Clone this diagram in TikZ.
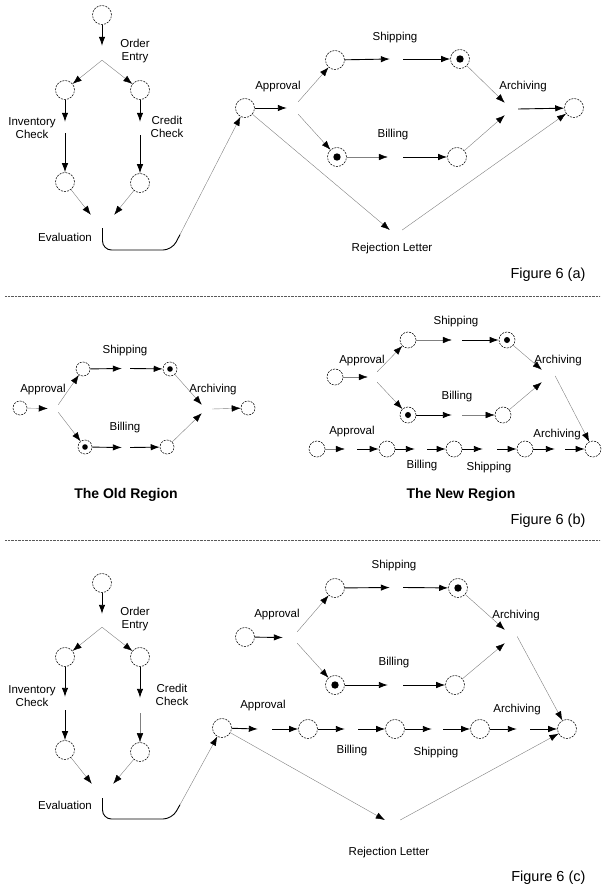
\documentclass[tikz,border=0pt]{standalone}
\usepackage{fontspec}
\setmainfont{Liberation Sans}
\usetikzlibrary{arrows.meta}

\begin{document}
\begin{tikzpicture}[x=1pt,y=-1pt,
  place/.style={circle,draw,line width=0.55pt,dash pattern=on 2pt off 1.1pt,minimum size=#1,inner sep=0pt},
  place/.default=19pt,
  token/.style={path picture={\fill (path picture bounding box.center) circle (#1);}},
  token/.default=3.7pt,
  tr/.style 2 args={inner sep=0pt,minimum width=#1,minimum height=#2},
  heavy/.style={line width=0.9pt,-{Latex[length=9pt,width=6.5pt]}},
  light/.style={line width=0.4pt,black!50,-{Latex[length=9pt,width=6.5pt,color=black]}},
  lbl/.style={font=\fontsize{11.5}{13.5}\selectfont,align=center},
  figcap/.style={font=\fontsize{14.5}{17}\selectfont,anchor=east},
  ttl/.style={font=\fontsize{14}{17}\selectfont\bfseries},
  divider/.style={black!65,line width=0.6pt,dash pattern=on 0.8pt off 0.6pt}]
\useasboundingbox (0,0) rectangle (603,888);

\node[place] (aStart) at (102,15) {};
\node[tr={0pt}{14pt}] (aOrd) at (102,53) {};
\node[lbl] (aOrdL) at (135,51) {Order\\Entry};
\node[place] (aInv1) at (65,90) {};
\node[place] (aCr1) at (140,90) {};
\node[tr={0pt}{11pt}] (aInv) at (65,127.5) {};
\node[tr={0pt}{13pt}] (aCr) at (140,128.5) {};
\node[lbl] (aInvL) at (32,128) {Inventory\\Check};
\node[lbl] (aCrL) at (167,127) {Credit\\Check};
\node[place] (aInv2) at (65,182) {};
\node[place] (aCr2) at (140,183) {};
\node[tr={23pt}{13pt}] (aEval) at (102.5,221.5) {};
\node[lbl] (aEvalL) at (65,237) {Evaluation};
\coordinate (aBendA) at (102.5,250);
\coordinate (aBendB) at (172,250);
\coordinate (aBendC) at (180,234.6);
\draw[heavy] (aStart) -- (aOrd.north);
\draw[light] (aOrd.south) -- (aInv1);
\draw[light] (aOrd.south) -- (aCr1);
\draw[heavy] (aInv1) -- (aInv.north);
\draw[heavy] (aInv.south) -- (aInv2);
\draw[heavy] (aCr1) -- (aCr.north);
\draw[heavy] (aCr.south) -- (aCr2);
\draw[light] (aInv2) -- (aEval.north west);
\draw[light] (aCr2) -- (aEval.north east);
\draw[line width=0.9pt,rounded corners=9pt] (aEval.south) -- (aBendA) -- (aBendB) -- (aBendC);

\node[place] (aAp) at (245,108) {};
\node[tr={11pt}{12pt}] (aAppr) at (292.5,108) {};
\node[lbl] (aApprL) at (278,87) {Approval};
\node[place] (aShip1) at (335,60) {};
\node[tr={13pt}{0pt}] (aShip) at (396.5,59) {};
\node[place,token] (aShip2) at (460,59) {};
\node[lbl] (aShipL) at (395,38) {Shipping};
\node[place,token] (aBill1) at (337,157) {};
\node[tr={15pt}{0pt}] (aBill) at (395.5,157) {};
\node[place] (aBill2) at (457,157) {};
\node[lbl] (aBillL) at (393,135) {Billing};
\node[tr={13pt}{12pt}] (aArch) at (511.5,109) {};
\node[lbl] (aArchL) at (523,87) {Archiving};
\node[place] (aEnd) at (574,108) {};
\node[tr={12pt}{0pt}] (aRej) at (396,230) {};
\node[lbl] (aRejL) at (392,249) {Rejection Letter};
\node[figcap] (aCap) at (589,275) {Figure 6 (a)};
\draw[light] (aBendC) -- (aAp);
\draw[heavy] (aAp) -- (aAppr.west);
\draw[light] (aAppr.north east) -- (aShip1);
\draw[light] (aAppr.south east) -- (aBill1);
\draw[heavy] (aShip1) -- (aShip.west);
\draw[heavy] (aShip.east) -- (aShip2);
\draw[light] (aBill1) -- (aBill.west);
\draw[heavy] (aBill.east) -- (aBill2);
\draw[light] (aShip2) -- (aArch.north west);
\draw[light] (aBill2) -- (aArch.south west);
\draw[heavy] (aArch.east) -- (aEnd);
\draw[light] (aAp) -- (aRej.west);
\draw[light] (aRej.east) -- (aEnd);

\coordinate (sepA1) at (5,296);
\coordinate (sepA2) at (600,296);
\draw[divider] (sepA1) -- (sepA2);

\node[place=14pt] (oAp) at (20,408) {};
\node[tr={10pt}{7pt}] (oAppr) at (53,408.5) {};
\node[lbl] (oApprL) at (43,390) {Approval};
\node[place=14pt] (oShip1) at (83,369) {};
\node[tr={8pt}{0pt}] (oShip) at (126,368.5) {};
\node[place=14pt,token=2.8pt] (oShip2) at (170,369) {};
\node[lbl] (oShipL) at (125,351) {Shipping};
\node[place=14pt,token=2.8pt] (oBill1) at (85,447) {};
\node[tr={8pt}{0pt}] (oBill) at (126,447.5) {};
\node[place=14pt] (oBill2) at (167,447) {};
\node[lbl] (oBillL) at (125,428) {Billing};
\node[tr={10pt}{8pt}] (oArch) at (207,409) {};
\node[lbl] (oArchL) at (213,390) {Archiving};
\node[place=14pt] (oEnd) at (248,408) {};
\node[ttl] (oTtl) at (126,495) {The Old Region};
\draw[light] (oAp) -- (oAppr.west);
\draw[light] (oAppr.north east) -- (oShip1);
\draw[light] (oAppr.south east) -- (oBill1);
\draw[heavy] (oShip1) -- (oShip.west);
\draw[heavy] (oShip.east) -- (oShip2);
\draw[heavy] (oBill1) -- (oBill.west);
\draw[heavy] (oBill.east) -- (oBill2);
\draw[light] (oShip2) -- (oArch.north west);
\draw[light] (oBill2) -- (oArch.south west);
\draw[light] (oArch.east) -- (oEnd);

\node[place=16pt] (nAp) at (335,377) {};
\node[tr={9pt}{10pt}] (nAppr) at (372.5,377) {};
\node[lbl] (nApprL) at (362,361) {Approval};
\node[place=16pt] (nShip1) at (408,340) {};
\node[tr={10pt}{0pt}] (nShip) at (457,340) {};
\node[place=16pt,token=3pt] (nShip2) at (507,340) {};
\node[lbl] (nShipL) at (456,322) {Shipping};
\node[place=16pt,token=3pt] (nBill1) at (408,415) {};
\node[tr={10pt}{0pt}] (nBill) at (457,415) {};
\node[place=16pt] (nBill2) at (503,415) {};
\node[lbl] (nBillL) at (457,397) {Billing};
\node[tr={13pt}{12pt}] (nArch) at (548.5,376) {};
\node[lbl] (nArchL) at (558,361) {Archiving};
\node[place=16pt] (nEnd) at (593,449) {};
\node[place=16pt] (nR1) at (317,449) {};
\node[tr={12pt}{0pt}] (nRa) at (351,449) {};
\node[place=16pt] (nR2) at (387,449) {};
\node[tr={12pt}{0pt}] (nRb) at (421,449) {};
\node[place=16pt] (nR3) at (454,449) {};
\node[tr={14pt}{0pt}] (nRc) at (490,449) {};
\node[place=16pt] (nR4) at (525,449) {};
\node[tr={10pt}{0pt}] (nRd) at (560,449) {};
\node[lbl] (nRaL) at (352,432) {Approval};
\node[lbl] (nRbL) at (422,466) {Billing};
\node[lbl] (nRcL) at (489,468) {Shipping};
\node[lbl] (nRdL) at (557,435) {Archiving};
\node[ttl] (nTtl) at (461,495) {The New Region};
\node[figcap] (bCap) at (589,521) {Figure 6 (b)};
\draw[light] (nAp) -- (nAppr.west);
\draw[light] (nAppr.north east) -- (nShip1);
\draw[light] (nAppr.south east) -- (nBill1);
\draw[light] (nShip1) -- (nShip.west);
\draw[heavy] (nShip.east) -- (nShip2);
\draw[heavy] (nBill1) -- (nBill.west);
\draw[light] (nBill.east) -- (nBill2);
\draw[light] (nShip2) -- (nArch.north west);
\draw[light] (nBill2) -- (nArch.south west);
\draw[light] (nArch.east) -- (nEnd);
\draw[light] (nR1) -- (nRa.west);
\draw[heavy] (nRa.east) -- (nR2);
\draw[heavy] (nR2) -- (nRb.west);
\draw[heavy] (nRb.east) -- (nR3);
\draw[heavy] (nR3) -- (nRc.west);
\draw[heavy] (nRc.east) -- (nR4);
\draw[heavy] (nR4) -- (nRd.west);
\draw[heavy] (nRd.east) -- (nEnd);

\coordinate (sepB1) at (5,540);
\coordinate (sepB2) at (600,540);
\draw[divider] (sepB1) -- (sepB2);

\node[place] (cStart) at (102,583) {};
\node[tr={0pt}{13pt}] (cOrd) at (102,620.5) {};
\node[lbl] (cOrdL) at (135,619) {Order\\Entry};
\node[place] (cInv1) at (65,657) {};
\node[place] (cCr1) at (140,657) {};
\node[tr={0pt}{13pt}] (cInv) at (65,703.5) {};
\node[tr={0pt}{15pt}] (cCr) at (140,705.5) {};
\node[lbl] (cInvL) at (32,696) {Inventory\\Check};
\node[lbl] (cCrL) at (172,695) {Credit\\Check};
\node[place] (cInv2) at (65,750) {};
\node[place] (cCr2) at (140,752) {};
\node[tr={21pt}{14pt}] (cEval) at (102.5,791) {};
\node[lbl] (cEvalL) at (65,805) {Evaluation};
\coordinate (cBendA) at (102.5,819);
\coordinate (cBendB) at (172,819);
\coordinate (cBendC) at (180,804.7);
\draw[heavy] (cStart) -- (cOrd.north);
\draw[light] (cOrd.south) -- (cInv1);
\draw[light] (cOrd.south) -- (cCr1);
\draw[heavy] (cInv1) -- (cInv.north);
\draw[heavy] (cInv.south) -- (cInv2);
\draw[heavy] (cCr1) -- (cCr.north);
\draw[light] (cCr.south) -- (cCr2);
\draw[light] (cInv2) -- (cEval.north west);
\draw[light] (cCr2) -- (cEval.north east);
\draw[line width=0.9pt,rounded corners=9pt] (cEval.south) -- (cBendA) -- (cBendB) -- (cBendC);

\node[place] (cAp) at (245,637) {};
\node[tr={14pt}{11pt}] (cAppr) at (290,637.5) {};
\node[lbl] (cApprL) at (277,615) {Approval};
\node[place] (cShip1) at (335,588) {};
\node[tr={13pt}{0pt}] (cShip) at (396.5,587.5) {};
\node[place,token] (cShip2) at (458,588) {};
\node[lbl] (cShipL) at (394,566) {Shipping};
\node[place,token] (cBill1) at (335,685) {};
\node[tr={15pt}{0pt}] (cBill) at (395.5,685) {};
\node[place] (cBill2) at (455,685) {};
\node[lbl] (cBillL) at (394,663) {Billing};
\node[tr={12pt}{13pt}] (cArch) at (511,636.5) {};
\node[lbl] (cArchL) at (516,616) {Archiving};
\node[place] (cEnd) at (567,729) {};
\node[place] (cR0) at (222,728) {};
\node[tr={14pt}{0pt}] (cRa) at (265,729) {};
\node[place] (cR1) at (308,729) {};
\node[tr={13pt}{0pt}] (cRb) at (351.5,729) {};
\node[place] (cR2) at (395,729) {};
\node[tr={11pt}{0pt}] (cRc) at (437.5,729) {};
\node[place] (cR3) at (480,729) {};
\node[tr={13pt}{0pt}] (cRd) at (523.5,729) {};
\node[lbl] (cRaL) at (263,706) {Approval};
\node[lbl] (cRbL) at (352,751) {Billing};
\node[lbl] (cRcL) at (436,753) {Shipping};
\node[lbl] (cRdL) at (517,710) {Archiving};
\node[tr={15pt}{0pt}] (cRej) at (392.5,820) {};
\node[lbl] (cRejL) at (389,853) {Rejection Letter};
\node[figcap] (cCap) at (589,878) {Figure 6 (c)};
\draw[light] (cBendC) -- (cR0);
\draw[heavy] (cAp) -- (cAppr.west);
\draw[light] (cAppr.north east) -- (cShip1);
\draw[light] (cAppr.south east) -- (cBill1);
\draw[heavy] (cShip1) -- (cShip.west);
\draw[heavy] (cShip.east) -- (cShip2);
\draw[heavy] (cBill1) -- (cBill.west);
\draw[heavy] (cBill.east) -- (cBill2);
\draw[light] (cShip2) -- (cArch.north west);
\draw[light] (cBill2) -- (cArch.south west);
\draw[light] (cArch.east) -- (cEnd);
\draw[heavy] (cR0) -- (cRa.west);
\draw[heavy] (cRa.east) -- (cR1);
\draw[heavy] (cR1) -- (cRb.west);
\draw[heavy] (cRb.east) -- (cR2);
\draw[heavy] (cR2) -- (cRc.west);
\draw[heavy] (cRc.east) -- (cR3);
\draw[heavy] (cR3) -- (cRd.west);
\draw[heavy] (cRd.east) -- (cEnd);
\draw[light] (cR0) -- (cRej.west);
\draw[light] (cRej.east) -- (cEnd);
\end{tikzpicture}
\end{document}
